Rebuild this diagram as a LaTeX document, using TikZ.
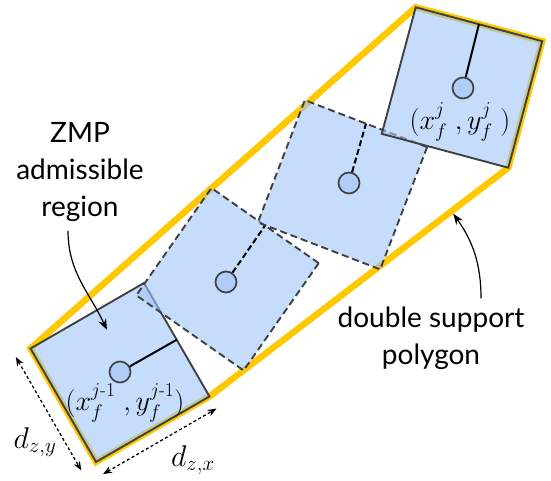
\RequirePackage{fix-cm}
\documentclass[tikz,border=0pt]{standalone}
\usepackage{amsmath}
\usepackage[no-math]{fontspec}
\setsansfont{Lato}
\usetikzlibrary{arrows.meta, backgrounds, calc}
\definecolor{dsyellow}{HTML}{FFC800}
\definecolor{footblue}{HTML}{9EC5F7}
\definecolor{dotblue}{HTML}{AFCDF8}
\definecolor{edgegray}{HTML}{404040}

\begin{document}
\begin{tikzpicture}[x=1pt, y=1pt, >={Stealth[length=11pt, width=8pt]},
  foot/.style={draw=edgegray, line width=1.9pt, fill=footblue, fill opacity=0.6,
    minimum size=131pt, inner sep=0pt, outer sep=0pt},
  planned/.style={foot, dash pattern=on 7pt off 4pt},
  zmpdot/.style={circle, draw=edgegray, line width=1.7pt, fill=dotblue,
    minimum size=21pt, inner sep=0pt},
  reach/.style={black, line width=2pt},
  note/.style={font=\sffamily\fontsize{28}{37}\selectfont, align=center, inner sep=0pt},
  coordlabel/.style={font=\fontsize{28}{34}\selectfont, inner sep=0pt},
  dimarrow/.style={black, line width=1.3pt, dash pattern=on 3pt off 2.5pt,
    {Stealth[length=9pt, width=7pt]}-{Stealth[length=9pt, width=7pt]}}]

% Canvas
\path[use as bounding box] (0,0) rectangle (551,481);

% Footprints, previous step (j-1) to next step (j)
\node[foot, rotate=30] (f1) at (120,108.5) {};
\node[zmpdot] (c1) at (120,109) {};
\draw[reach] (c1) -- (f1.east);

\node[planned, rotate=-35] (f2) at (227.5,201.75) {};
\node[zmpdot] (c2) at (226,199) {};
\draw[reach, dash pattern=on 6pt off 3pt] (c2) -- (f2.north);

\node[planned, rotate=-21] (f3) at (342.5,296.25) {};
\node[zmpdot] (c3) at (349,298) {};
\draw[reach, dash pattern=on 6pt off 3pt] (c3) -- (f3.north);

\node[foot, rotate=-15] (f4) at (462,393.5) {};
\node[zmpdot] (c4) at (463,393) {};
\draw[reach] (c4) -- (f4.north);

% Double support polygon, kept under the feet
\begin{pgfonlayer}{background}
\draw[dsyellow, line width=6.5pt, line join=miter]
  (f4.north west) -- (f4.north east) -- (f4.south east)
  -- (f1.south east) -- (f1.south west) -- (f1.north west) -- cycle;
\end{pgfonlayer}

% Foot positions
\node[coordlabel] (p4) at (460,359) {$(x_f^{j}\;,y_f^{j}\;)$};
\node[coordlabel] (p1) at (125,78) {$(x_f^{j\text{-}1}\;,y_f^{j\text{-}1})$};

% Foot size
\draw[dimarrow] ([shift={(210:17pt)}]f1.north west) -- ([shift={(210:17pt)}]f1.south west);
\draw[dimarrow] ([shift={(-60:14pt)}]f1.south west) -- ([shift={(-60:14pt)}]f1.south east);
\node[coordlabel, font=\fontsize{30}{34}\selectfont] (dzy) at (35,39) {$d_{z,y}$};
\node[coordlabel, font=\fontsize{30}{34}\selectfont] (dzx) at (193,21) {$d_{z,x}$};

% Callouts
\node[note] (zmp) at (80,309) {ZMP\\admissible\\region};
\coordinate (zmpin) at (107,151);
\draw[->, line width=1.2pt] ([shift={(-12pt,-9pt)}]zmp.south) to[out=-90, in=115] (zmpin);

\node[note] (ds) at (431,143) {double support\\polygon};
\coordinate (dsin) at ($(f4.south east)!0.19!(f1.south east)$);
\draw[->, line width=1.2pt, shorten >=3pt] ([shift={(50pt,8pt)}]ds.north) to[out=90, in=-55] (dsin);

\end{tikzpicture}
\end{document}
